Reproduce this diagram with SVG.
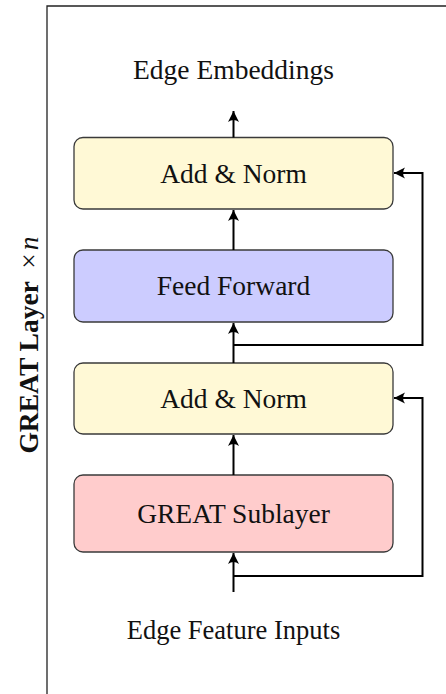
<svg xmlns="http://www.w3.org/2000/svg" width="446" height="694" viewBox="0 0 446 694">
  <style>
    .box { stroke: #3a3a3a; stroke-width: 1.3; }
    .lbl { font-family: "Liberation Serif", "Times New Roman", serif; font-size: 27.5px; fill: #111; text-anchor: middle; }
    .wire { fill: none; stroke: #000; stroke-width: 2; }
    .frame { fill: none; stroke: #222; stroke-width: 1.3; }
  </style>
  <defs>
    <marker id="tip" viewBox="-12 -6 13 12" refX="0" refY="0" markerWidth="13" markerHeight="12" markerUnits="userSpaceOnUse" orient="auto">
      <path d="M0,0 L-11,-5.5 Q-7,0 -11,5.5 Z" fill="#000"/>
    </marker>
  </defs>

  <!-- layer frame -->
  <g id="frame">
    <path class="frame" d="M47,694 V6 H446"/>
  </g>

  <!-- repeated layer label -->
  <g id="layer-label">
    <text transform="translate(38,345) rotate(-90)" class="lbl" font-weight="bold">GREAT Layer <tspan font-weight="normal" dx="6">×</tspan><tspan font-weight="normal" font-style="italic" dx="3">n</tspan></text>
  </g>

  <g id="output-label">
    <text x="233.5" y="78.5" class="lbl">Edge Embeddings</text>
  </g>

  <g id="add-norm-top">
    <rect class="box" x="74" y="137.5" width="319" height="71.5" rx="9" fill="#fff9d6"/>
    <text x="233.5" y="182.5" class="lbl">Add &amp; Norm</text>
  </g>

  <g id="feed-forward">
    <rect class="box" x="74" y="250" width="319" height="72" rx="9" fill="#ccccff"/>
    <text x="233.5" y="295" class="lbl">Feed Forward</text>
  </g>

  <g id="add-norm-bottom">
    <rect class="box" x="74" y="363" width="319" height="71" rx="9" fill="#fff9d6"/>
    <text x="233.5" y="407.5" class="lbl">Add &amp; Norm</text>
  </g>

  <g id="great-sublayer">
    <rect class="box" x="74" y="475" width="319" height="77" rx="9" fill="#ffcccc"/>
    <text x="233.5" y="522.5" class="lbl" font-size="27px">GREAT Sublayer</text>
  </g>

  <g id="input-label">
    <text x="233.5" y="639" class="lbl" style="font-size:26.5px">Edge Feature Inputs</text>
  </g>

  <!-- connectors -->
  <g id="connectors">
    <line class="wire" x1="233.5" y1="592" x2="233.5" y2="553" marker-end="url(#tip)"/>
    <line class="wire" x1="233.5" y1="475" x2="233.5" y2="435" marker-end="url(#tip)"/>
    <line class="wire" x1="233.5" y1="363" x2="233.5" y2="323" marker-end="url(#tip)"/>
    <line class="wire" x1="233.5" y1="250" x2="233.5" y2="210" marker-end="url(#tip)"/>
    <line class="wire" x1="233.5" y1="137.5" x2="233.5" y2="111" marker-end="url(#tip)"/>
    <!-- residual paths -->
    <path class="wire" d="M233.5,576 H422.5 V398 H394" marker-end="url(#tip)"/>
    <path class="wire" d="M233.5,345 H422.5 V173 H394" marker-end="url(#tip)"/>
  </g>
</svg>
